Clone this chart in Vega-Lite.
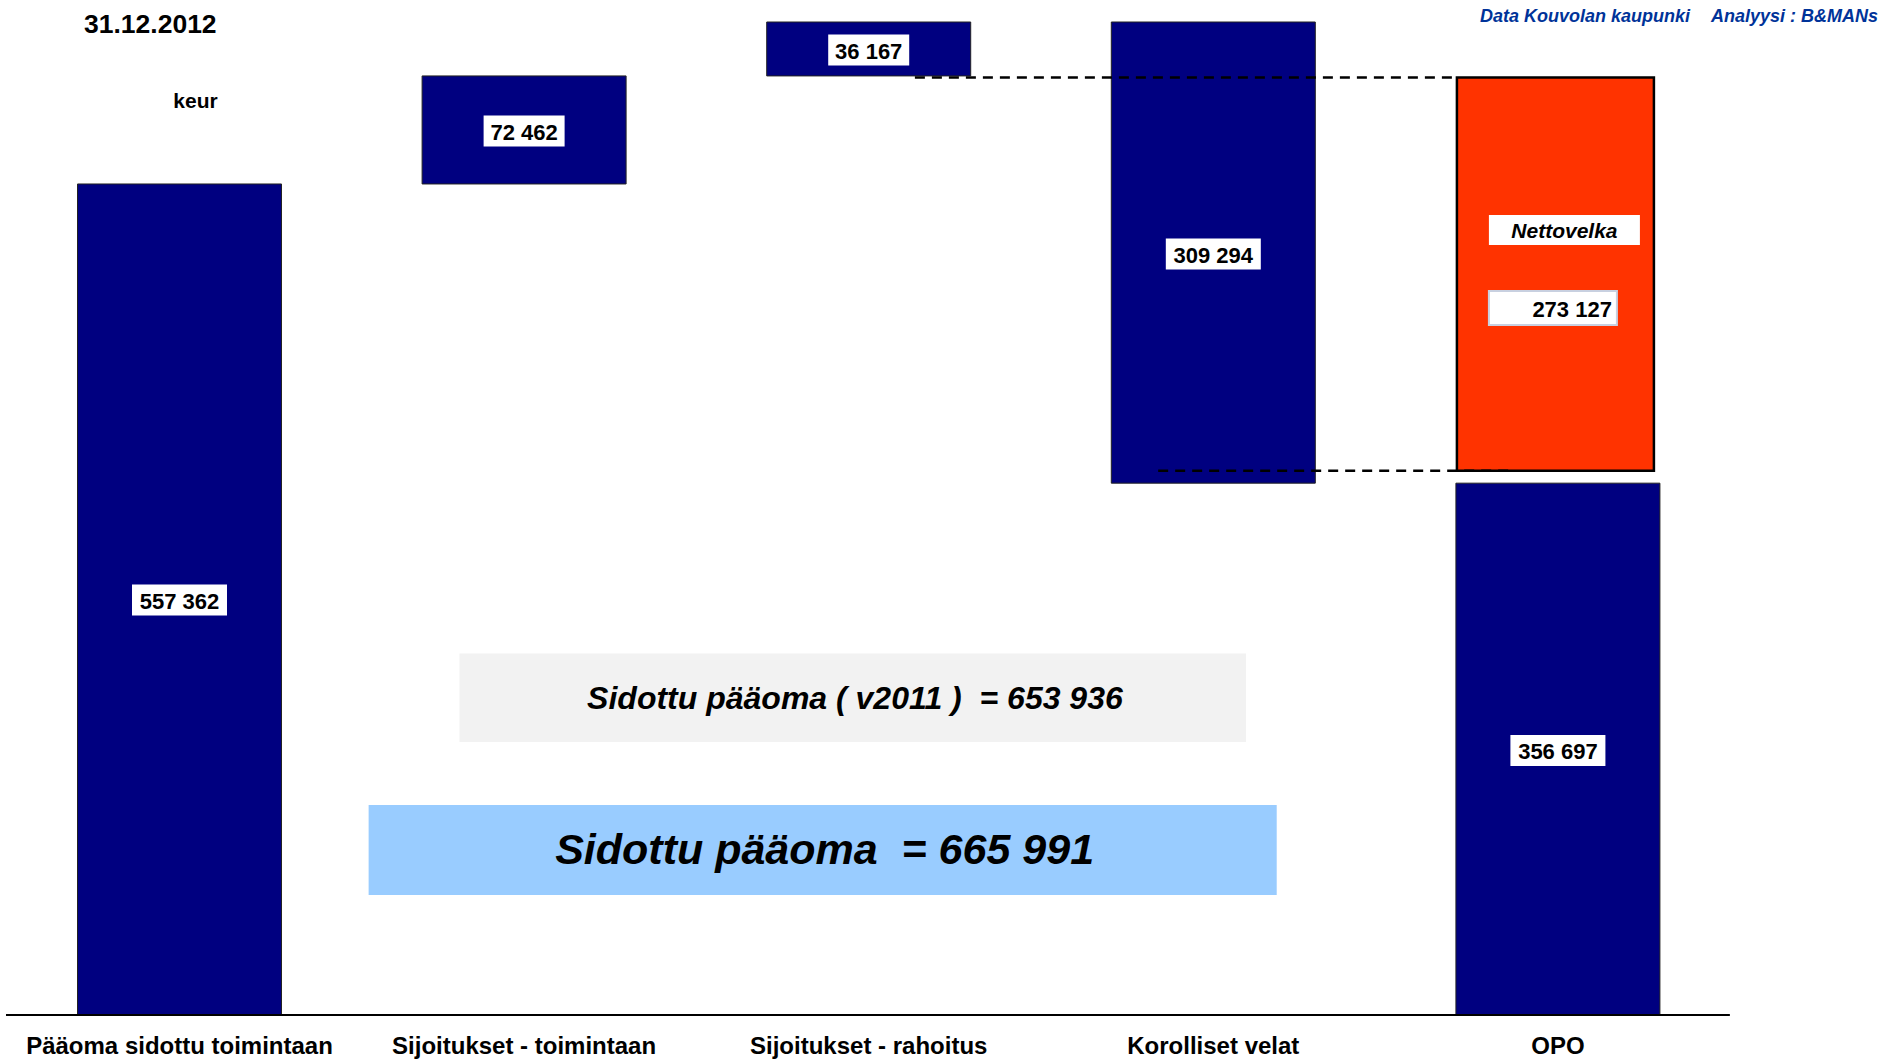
{
  "$schema": "https://vega.github.io/schema/vega-lite/v6.json",
  "width": 1901,
  "height": 1059,
  "autosize": "none",
  "padding": 0,
  "background": "white",
  "config": {"view": {"stroke": null}, "text": {"font": "Liberation Sans"}},
  "datasets": {
    "bars": [
      {"cat": "Pääoma sidottu toimintaan", "i": 0, "start": 0, "end": 557362, "part": "blue"},
      {"cat": "Sijoitukset - toimintaan", "i": 1, "start": 557362, "end": 629824, "part": "blue"},
      {"cat": "Sijoitukset - rahoitus", "i": 2, "start": 629824, "end": 665991, "part": "blue"},
      {"cat": "Korolliset velat", "i": 3, "start": 356697, "end": 665991, "part": "blue"},
      {"cat": "OPO", "i": 4, "start": 0, "end": 356697, "part": "blue"},
      {"cat": "OPO", "i": 4, "start": 365000, "end": 628700, "part": "red"}
    ],
    "values": [
      {"i": 0, "v": 278337, "label": "557 362"},
      {"i": 1, "v": 592891, "label": "72 462"},
      {"i": 2, "v": 647217, "label": "36 167"},
      {"i": 3, "v": 510396, "label": "309 294"},
      {"i": 4, "v": 177398, "label": "356 697"}
    ],
    "guides": [
      {"x1": 2.134, "x2": 3.707, "y": 628700},
      {"x1": 2.840, "x2": 3.876, "y": 365000}
    ],
    "cats": [
      {"i": 0, "cat": "Pääoma sidottu toimintaan"},
      {"i": 1, "cat": "Sijoitukset - toimintaan"},
      {"i": 2, "cat": "Sijoitukset - rahoitus"},
      {"i": 3, "cat": "Korolliset velat"},
      {"i": 4, "cat": "OPO"}
    ]
  },
  "layer": [
    {
      "data": {"name": "bars"},
      "transform": [{"filter": "datum.part === 'blue'"}],
      "mark": {"type": "bar", "width": 204, "color": "#000080", "stroke": "#222222", "strokeWidth": 1},
      "encoding": {
        "x": {"field": "i", "type": "quantitative", "scale": {"domain": [-0.5209, 4.9956], "nice": false, "zero": false, "padding": 0}, "axis": null},
        "y": {"field": "start", "type": "quantitative", "scale": {"domain": [-29511, 680751], "nice": false, "zero": false, "padding": 0}, "axis": null},
        "y2": {"field": "end"}
      }
    },
    {
      "data": {"name": "bars"},
      "transform": [{"filter": "datum.part === 'red'"}],
      "mark": {"type": "bar", "width": 197, "xOffset": -2.5, "color": "#FF3300", "stroke": "#000000", "strokeWidth": 2.5},
      "encoding": {
        "x": {"field": "i", "type": "quantitative"},
        "y": {"field": "start", "type": "quantitative"},
        "y2": {"field": "end"}
      }
    },
    {
      "data": {"name": "guides"},
      "mark": {"type": "rule", "color": "#000000", "strokeWidth": 2.5, "strokeDash": [10, 7]},
      "encoding": {
        "x": {"field": "x1", "type": "quantitative"},
        "x2": {"field": "x2"},
        "y": {"field": "y", "type": "quantitative"}
      }
    },
    {
      "data": {"values": [{"a": -0.5035, "b": 4.499, "y": 0}]},
      "mark": {"type": "rule", "color": "#000000", "strokeWidth": 2},
      "encoding": {
        "x": {"field": "a", "type": "quantitative"},
        "x2": {"field": "b"},
        "y": {"field": "y", "type": "quantitative"}
      }
    },
    {
      "data": {"values": [
        {"a": 0.8125, "b": 3.095, "top": 242455, "bot": 183099, "fill": "#F2F2F2"},
        {"a": 0.5488, "b": 3.184, "top": 140845, "bot": 80483, "fill": "#99CCFF"}
      ]},
      "mark": {"type": "rect"},
      "encoding": {
        "x": {"field": "a", "type": "quantitative"},
        "x2": {"field": "b"},
        "y": {"field": "top", "type": "quantitative"},
        "y2": {"field": "bot"},
        "fill": {"field": "fill", "type": "nominal", "scale": null}
      }
    },
    {
      "data": {"name": "values"},
      "transform": [{"filter": "length(datum.label) === 6"}],
      "mark": {"type": "rect", "width": 81, "height": 31, "fill": "white"},
      "encoding": {
        "x": {"field": "i", "type": "quantitative"},
        "y": {"field": "v", "type": "quantitative"}
      }
    },
    {
      "data": {"name": "values"},
      "transform": [{"filter": "length(datum.label) === 7"}],
      "mark": {"type": "rect", "width": 95, "height": 31, "fill": "white"},
      "encoding": {
        "x": {"field": "i", "type": "quantitative"},
        "y": {"field": "v", "type": "quantitative"}
      }
    },
    {
      "data": {"name": "values"},
      "mark": {"type": "text", "fontSize": 22, "fontWeight": "bold", "color": "#000000", "baseline": "middle", "align": "center", "dy": 2},
      "encoding": {
        "x": {"field": "i", "type": "quantitative"},
        "y": {"field": "v", "type": "quantitative"},
        "text": {"field": "label"}
      }
    },
    {
      "data": {"values": [{"i": 4, "v": 526492, "label": "Nettovelka"}]},
      "layer": [
        {"mark": {"type": "rect", "width": 151, "height": 30, "xOffset": 6.5, "fill": "white"}},
        {"mark": {"type": "text", "fontSize": 21, "fontWeight": "bold", "fontStyle": "italic", "dx": 6.5, "dy": 1.5, "baseline": "middle", "align": "center", "color": "#000000"},
         "encoding": {"text": {"field": "label"}}}
      ],
      "encoding": {
        "x": {"field": "i", "type": "quantitative"},
        "y": {"field": "v", "type": "quantitative"}
      }
    },
    {
      "data": {"values": [{"i": 4, "v": 474178, "label": "273 127"}]},
      "layer": [
        {"mark": {"type": "rect", "width": 128, "height": 34, "xOffset": -5, "fill": "white", "stroke": "#C8D0E0", "strokeWidth": 2}},
        {"mark": {"type": "text", "fontSize": 22, "fontWeight": "bold", "dx": 54, "dy": 2, "baseline": "middle", "align": "right", "color": "#000000"},
         "encoding": {"text": {"field": "label"}}}
      ],
      "encoding": {
        "x": {"field": "i", "type": "quantitative"},
        "y": {"field": "v", "type": "quantitative"}
      }
    },
    {
      "data": {"name": "cats"},
      "mark": {"type": "text", "fontSize": 24, "fontWeight": "bold", "baseline": "middle", "align": "center", "color": "#000000"},
      "encoding": {
        "x": {"field": "i", "type": "quantitative"},
        "y": {"datum": -21700, "type": "quantitative"},
        "text": {"field": "cat"}
      }
    },
    {
      "data": {"values": [
        {"i": 1.960, "v": 213280, "t": "Sidottu pääoma ( v2011 ) \u00a0= 653 936", "s": "small"},
        {"i": 1.872, "v": 111335, "t": "Sidottu pääoma \u00a0= 665 991", "s": "big"}
      ]},
      "layer": [
        {"transform": [{"filter": "datum.s === 'small'"}],
         "mark": {"type": "text", "fontSize": 32, "fontWeight": "bold", "fontStyle": "italic", "baseline": "middle", "align": "center", "color": "#000000", "dy": 2}},
        {"transform": [{"filter": "datum.s === 'big'"}],
         "mark": {"type": "text", "fontSize": 43, "fontWeight": "bold", "fontStyle": "italic", "baseline": "middle", "align": "center", "color": "#000000", "dy": 2}}
      ],
      "encoding": {
        "x": {"field": "i", "type": "quantitative"},
        "y": {"field": "v", "type": "quantitative"},
        "text": {"field": "t"}
      }
    },
    {
      "data": {"values": [
        {"i": -0.2772, "v": 664655, "t": "31.12.2012"}
      ]},
      "mark": {"type": "text", "fontSize": 26.5, "fontWeight": "bold", "baseline": "middle", "align": "left", "color": "#000000", "dy": 1.5},
      "encoding": {
        "x": {"field": "i", "type": "quantitative"},
        "y": {"field": "v", "type": "quantitative"},
        "text": {"field": "t"}
      }
    },
    {
      "data": {"values": [
        {"i": 0.0464, "v": 613280, "t": "keur"}
      ]},
      "mark": {"type": "text", "fontSize": 21, "fontWeight": "bold", "baseline": "middle", "align": "center", "color": "#000000", "dy": 1.5},
      "encoding": {
        "x": {"field": "i", "type": "quantitative"},
        "y": {"field": "v", "type": "quantitative"},
        "text": {"field": "t"}
      }
    },
    {
      "data": {"values": [
        {"i": 3.774, "v": 671026, "t": "Data Kouvolan kaupunki"},
        {"i": 4.444, "v": 671026, "t": "Analyysi : B&MANs"}
      ]},
      "mark": {"type": "text", "fontSize": 18, "fontWeight": "bold", "fontStyle": "italic", "baseline": "middle", "align": "left", "color": "#003399", "dy": 2.5},
      "encoding": {
        "x": {"field": "i", "type": "quantitative"},
        "y": {"field": "v", "type": "quantitative"},
        "text": {"field": "t"}
      }
    }
  ]
}
